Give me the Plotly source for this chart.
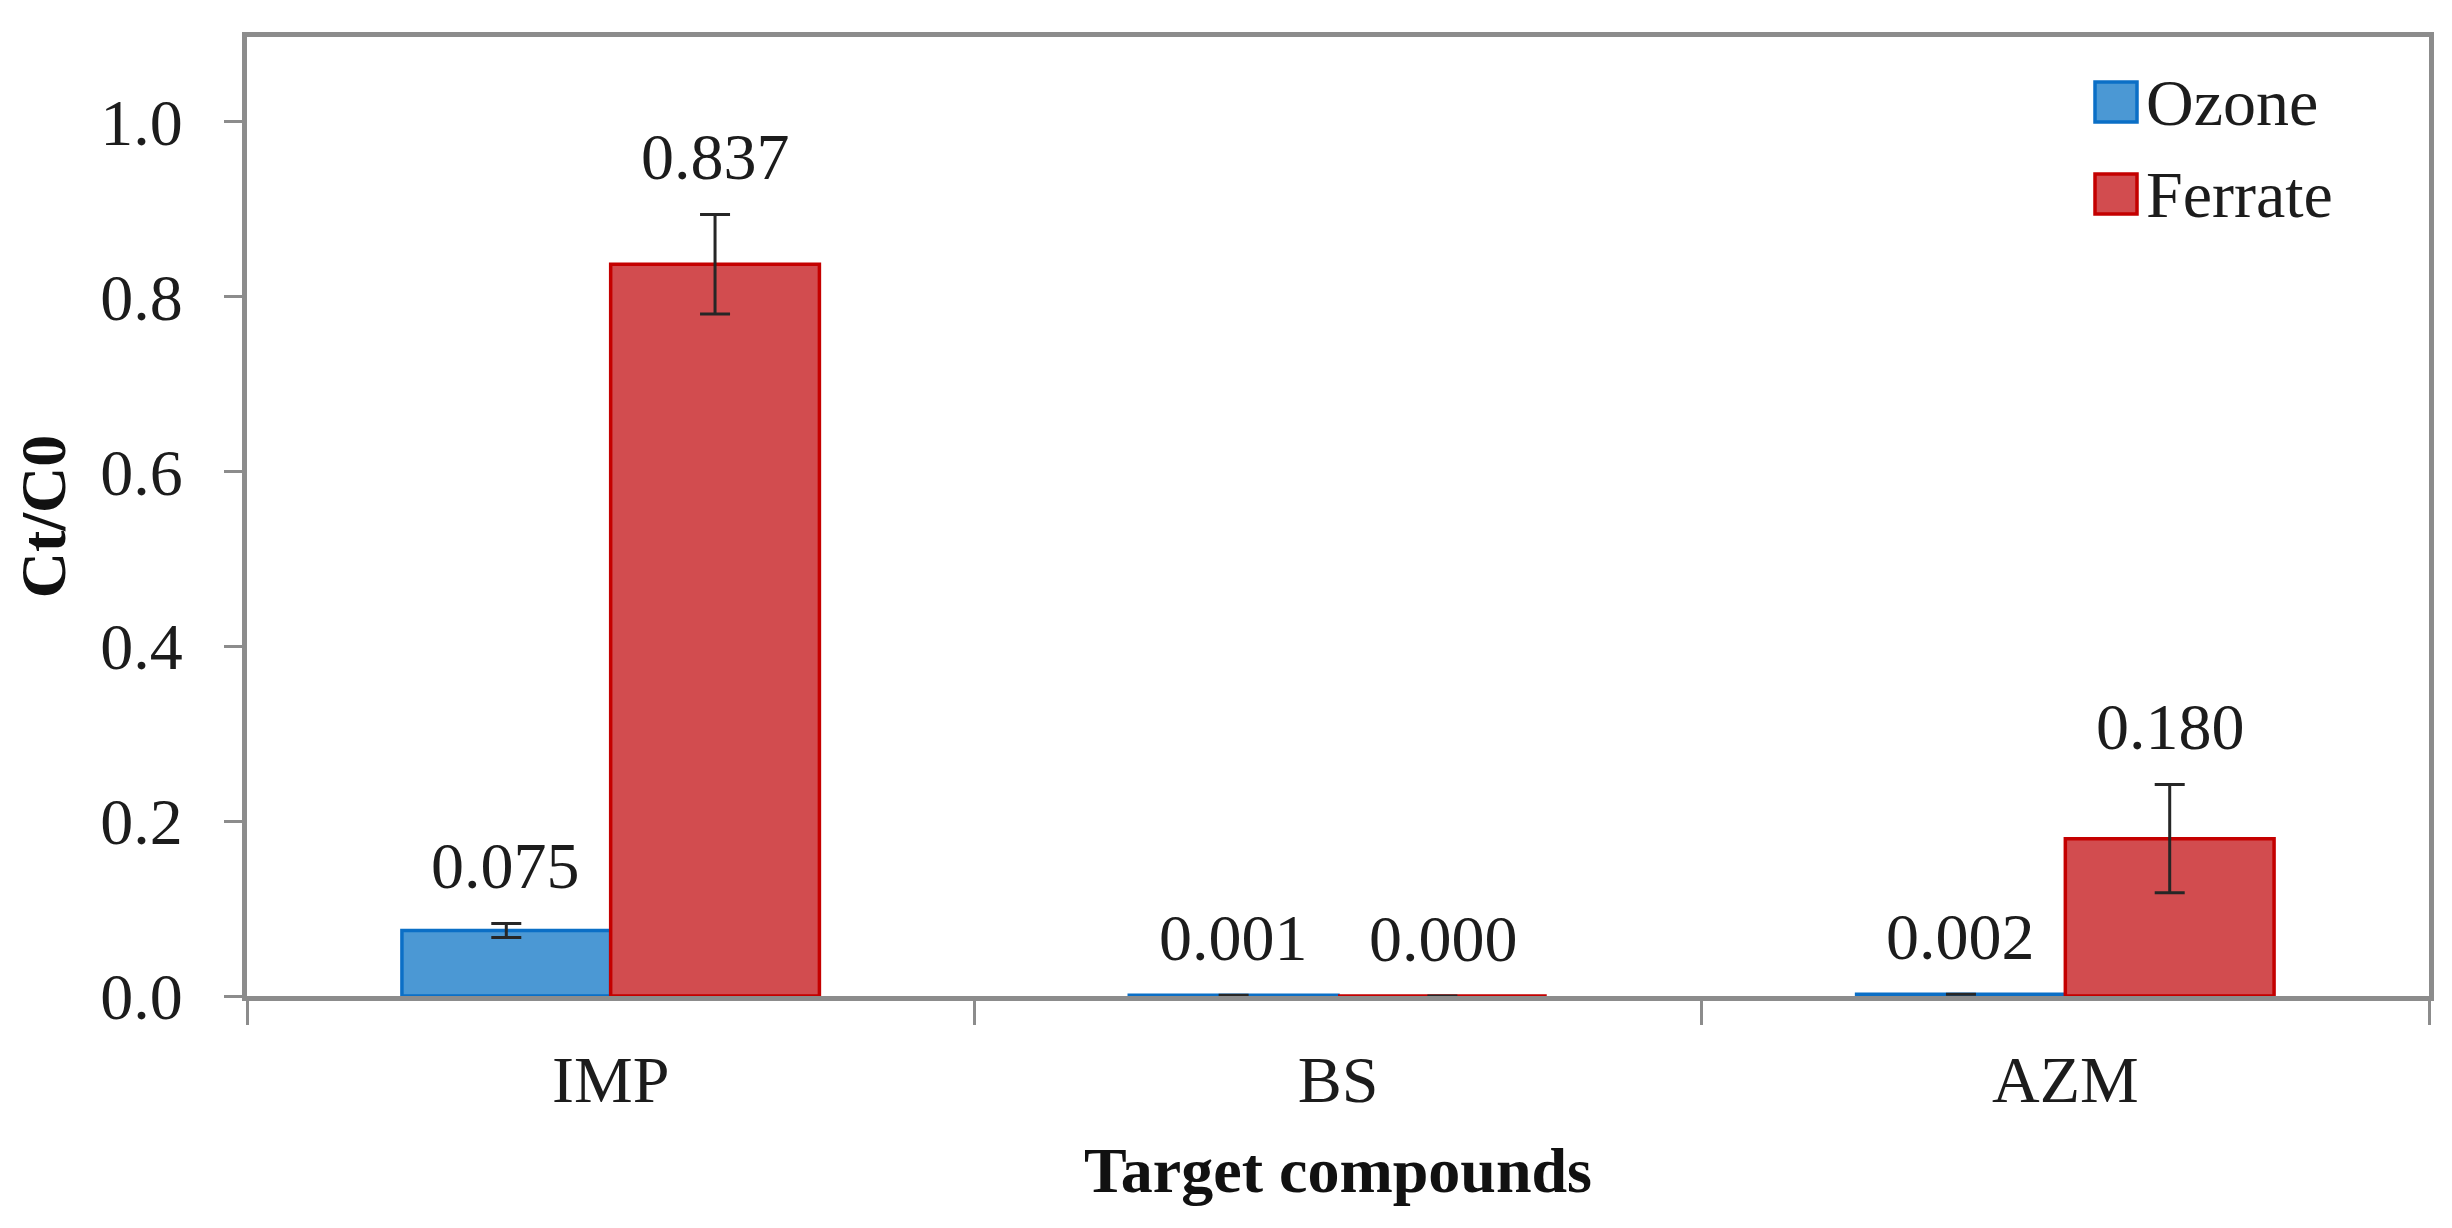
import plotly.graph_objects as go

categories = ["IMP", "BS", "AZM"]
series_names = ["Ozone", "Ferrate"]
ozone_values = [0.075, 0.001, 0.002]
ferrate_values = [0.837, 0.000, 0.180]
ozone_errors = [0.008, 0.0, 0.0]
ferrate_errors = [0.057, 0.0, 0.062]
ozone_labels = ["0.075", "0.001", "0.002"]
ferrate_labels = ["0.837", "0.000", "0.180"]
y_ticks = [0.0, 0.2, 0.4, 0.6, 0.8, 1.0]

FONT = "Liberation Serif, Times New Roman, serif"
TXT = "#1c1c1c"
AX = "#8c8c8c"
fills = ["#4b98d4", "#d24c4f"]
edges = ["#0b6fc6", "#c40000"]

values = [ozone_values, ferrate_values]
errors = [ozone_errors, ferrate_errors]
labels = [ozone_labels, ferrate_labels]

L, R, T, B = 239, 31, 29, 240
W, H = 2452, 1228
PW, PH = W - L - R, H - T - B

fig = go.Figure()
for i, name in enumerate(series_names):
    fig.add_trace(go.Bar(
        name=name, x=categories, y=values[i],
        marker=dict(color=fills[i], line=dict(color=edges[i], width=3.5)),
        error_y=dict(type="data", array=errors[i], visible=True,
                     color="#262626", thickness=3, width=15),
        offsetgroup=str(i), showlegend=False,
    ))

annotations = []
# data labels placed above bar + error bar
for i in range(len(series_names)):
    for j, cat in enumerate(categories):
        annotations.append(dict(
            x=cat, y=values[i][j] + errors[i][j], xref="x", yref="y",
            text=labels[i][j], showarrow=False, yanchor="bottom",
            xshift=(-105 if i == 0 else 105), yshift=19,
            font=dict(family=FONT, size=66, color=TXT),
        ))

# legend drawn with large swatches
shapes = []
leg_x0 = 2087
for i, name in enumerate(series_names):
    cy = 94 + i * 92
    shapes.append(dict(type="rect", xref="paper", yref="paper",
                       x0=(leg_x0 - L) / PW, x1=(leg_x0 + 42 - L) / PW,
                       y0=(T + PH - (cy + 20)) / PH, y1=(T + PH - (cy - 20)) / PH,
                       fillcolor=fills[i], line=dict(color=edges[i], width=3.5)))
    annotations.append(dict(x=(leg_x0 + 49 - L) / PW, y=(T + PH - cy) / PH,
                            xref="paper", yref="paper", text=name,
                            showarrow=False, xanchor="left", yanchor="middle",
                            font=dict(family=FONT, size=66, color=TXT)))

fig.update_layout(
    width=W, height=H,
    margin=dict(l=L, r=R, t=T, b=B, autoexpand=False),
    paper_bgcolor="white", plot_bgcolor="white",
    barmode="group", bargap=0.426, bargroupgap=0,
    font=dict(family=FONT, size=66, color=TXT),
    annotations=annotations, shapes=shapes,
    showlegend=False,
)
fig.update_xaxes(
    type="category", showline=True, linecolor=AX, linewidth=5, mirror=True,
    ticks="outside", tickson="boundaries", ticklen=24, tickcolor=AX, tickwidth=3,
    tickfont=dict(family=FONT, size=66, color=TXT), ticklabelstandoff=22,
    showgrid=False, zeroline=False, automargin=False,
    title=dict(text="<b>Target compounds</b>", font=dict(family=FONT, size=64, color="#111"), standoff=33),
)
fig.update_yaxes(
    range=[0, 1.097], tickvals=y_ticks, tickformat=".1f",
    showline=True, linecolor=AX, linewidth=5, mirror=True,
    ticks="outside", ticklen=18, tickcolor=AX, tickwidth=3,
    tickfont=dict(family=FONT, size=66, color=TXT), ticklabelstandoff=28,
    showgrid=False, zeroline=False, automargin=False,
    title=dict(text="<b>Ct/C0</b>", font=dict(family=FONT, size=64, color="#111"), standoff=30),
)

fig.write_html("out.html")
